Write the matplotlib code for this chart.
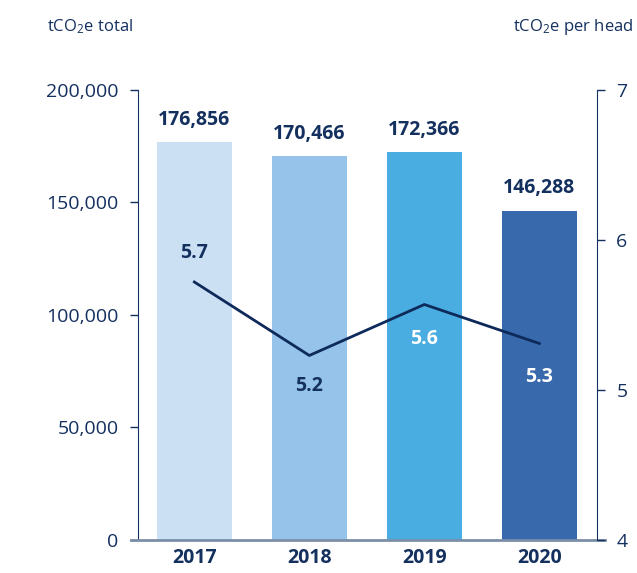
"""Emissions chart: total tCO2e bars with per-head line on a second axis."""

import matplotlib

matplotlib.use("Agg")
import matplotlib.pyplot as plt

years = ["2017", "2018", "2019", "2020"]
total_tco2e = [176856, 170466, 172366, 146288]
per_head = [5.72, 5.23, 5.57, 5.31]

bar_colors = ["#cce0f4", "#95c3e9", "#4aade1", "#3769ac"]
navy = "#14305e"
line_color = "#0d2a5a"
per_head_label_colors = [navy, navy, "white", "white"]

plt.rcParams["font.family"] = ["Open Sans", "DejaVu Sans"]
plt.rcParams["mathtext.default"] = "regular"

fig = plt.figure(figsize=(6.37, 5.73), dpi=100)
ax = fig.add_axes([0.2166, 0.0576, 0.7204, 0.7854])
ax2 = ax.twinx()

x = range(len(years))
ax.bar(x, total_tco2e, width=0.65, color=bar_colors, zorder=2)
for xi, v in zip(x, total_tco2e):
    ax.annotate(f"{v:,}", (xi, v), xytext=(0, 9), textcoords="offset points",
                ha="center", va="bottom", fontsize=14, fontweight="bold", color=navy)

ax.set_xlim(-0.49, 3.50)
ax.set_ylim(0, 200000)
ax.set_yticks([0, 50000, 100000, 150000, 200000])
ax.set_yticklabels(["0", "50,000", "100,000", "150,000", "200,000"])
ax.set_xticks(list(x))
ax.set_xticklabels(years, fontweight="bold")
ax.tick_params(axis="y", colors=navy, labelsize=14, length=6, width=1, pad=8)
ax.tick_params(axis="x", length=0, labelsize=14, labelcolor=navy, pad=6)

ax2.plot(list(x), per_head, color=line_color, linewidth=2, zorder=3)
ax2.set_ylim(4, 7)
ax2.set_yticks([4, 5, 6, 7])
ax2.tick_params(axis="y", colors=navy, labelsize=14, length=6, width=1, pad=8)
offsets = [21, -22, -25, -24]
for xi, v, off, c in zip(x, per_head, offsets, per_head_label_colors):
    ax2.annotate(f"{v:.1f}", (xi, v), xytext=(0, off), textcoords="offset points",
                 ha="center", va="center", fontsize=14, fontweight="bold", color=c)

for a in (ax, ax2):
    a.spines["top"].set_visible(False)
    a.spines["left"].set_color(navy)
    a.spines["right"].set_color(navy)
    a.spines["bottom"].set_visible(False)
ax.spines["right"].set_visible(False)
ax2.spines["left"].set_visible(False)

# baseline runs slightly past both vertical axes
ax.plot([-0.55, 3.57], [0, 0], color="#7b8ea8", linewidth=2, clip_on=False, zorder=4)

fig.text(0.074, 0.953, "tCO$_2$e total", ha="left", va="center", fontsize=12, color=navy)
fig.text(0.995, 0.953, "tCO$_2$e per head", ha="right", va="center", fontsize=12, color=navy)

fig.savefig("out.png", dpi=100)
